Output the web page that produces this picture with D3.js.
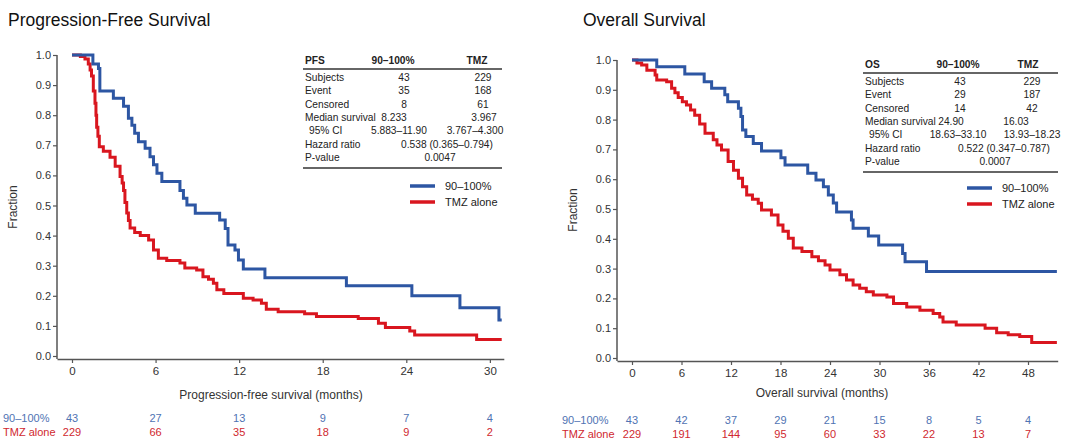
<!DOCTYPE html>
<html><head><meta charset="utf-8">
<script src="https://cdn.jsdelivr.net/npm/d3@7"></script>
<style>
body{margin:0;background:#fff;}
text{font-family:"Liberation Sans",Arial,sans-serif;}
</style></head>
<body><svg id="c" width="1080" height="446"></svg>
<script>
// ---------- data ----------
const pfsBlueT = [0,1.5,1.9,2.0,2.97,3.7,4.05,4.3,4.5,4.77,5.25,5.6,5.85,6.1,6.45,7.75,8.0,8.25,8.85,10.6,11.0,11.2,11.7,11.95,12.3,13.85,19.7,24.4,27.85,30.65,30.85];
const pfsBlueS = [1,0.97,0.955,0.88,0.856,0.83,0.79,0.767,0.74,0.712,0.69,0.662,0.635,0.607,0.58,0.55,0.524,0.502,0.474,0.452,0.424,0.369,0.352,0.319,0.289,0.26,0.233,0.20,0.16,0.12,0.12];
const pfsRedT = [0,0.6,0.93,1.17,1.3,1.4,1.53,1.65,1.72,1.77,1.86,1.96,2.25,2.73,3.1,3.45,3.6,3.7,3.8,3.93,4.05,4.17,4.5,4.9,5.5,5.85,6.2,6.8,7.75,8.1,8.95,9.4,9.8,10.15,10.4,10.9,12.3,13.0,13.6,13.95,14.8,16.7,17.55,20.55,22.0,22.5,24.25,24.6,29.05,30.85];
const pfsRedS = [1,0.995,0.987,0.97,0.95,0.93,0.88,0.84,0.80,0.76,0.73,0.695,0.68,0.66,0.63,0.596,0.575,0.55,0.51,0.475,0.45,0.425,0.41,0.40,0.385,0.352,0.325,0.317,0.309,0.292,0.286,0.263,0.255,0.242,0.22,0.208,0.192,0.186,0.175,0.155,0.147,0.14,0.131,0.125,0.109,0.095,0.083,0.07,0.055,0.055];

const osBlueT = [0,3.0,6.4,8.75,9.65,11.25,11.6,12.9,13.2,13.4,13.8,14.7,15.7,18.05,18.55,21.3,22.3,23.2,23.8,24.4,24.8,26.6,26.8,28.65,29.9,32.8,33.1,35.7,51.5];
const osBlueS = [1,0.977,0.953,0.927,0.905,0.883,0.86,0.838,0.81,0.765,0.743,0.72,0.695,0.672,0.648,0.62,0.597,0.575,0.547,0.52,0.49,0.463,0.435,0.409,0.379,0.351,0.323,0.29,0.29];
const osRedT = [0,0.6,1.17,1.8,2.8,3.0,4.2,4.8,5.2,5.6,6.1,6.6,7.1,7.6,8.2,8.85,9.85,10.3,10.85,11.65,12.3,12.9,13.4,13.9,14.6,15.3,15.7,16.9,17.7,18.3,18.95,19.55,20.6,21.8,22.6,23.4,24.0,25.2,26.0,26.8,27.6,28.4,29.25,30.9,31.7,33.3,34.9,36.5,37.3,37.7,39.3,42.8,44.2,45.6,47.0,48.45,51.5];
const osRedS = [1,0.99,0.983,0.966,0.95,0.933,0.927,0.905,0.89,0.874,0.86,0.849,0.832,0.815,0.785,0.754,0.732,0.715,0.698,0.659,0.63,0.603,0.575,0.547,0.533,0.519,0.497,0.48,0.446,0.425,0.402,0.369,0.357,0.34,0.326,0.312,0.295,0.279,0.262,0.245,0.234,0.222,0.211,0.205,0.183,0.171,0.16,0.149,0.138,0.121,0.111,0.1,0.085,0.078,0.072,0.052,0.052];

const yTicks = [0,0.1,0.2,0.3,0.4,0.5,0.6,0.7,0.8,0.9,1.0];
const pfsXTicks = [0,6,12,18,24,30];
const osXTicks = [0,6,12,18,24,30,36,42,48];
const pfsRiskBlue = [43,27,13,9,7,4];
const pfsRiskRed = [229,66,35,18,9,2];
const osRiskBlue = [43,42,37,29,21,15,8,5,4];
const osRiskRed = [229,191,144,95,60,33,22,13,7];
const seriesNames = ["90–100%","TMZ alone"];
const riskLabels = ["90–100%","TMZ alone"];

const pfsTableHead = ["PFS","90–100%","TMZ"];
const pfsTableRows = [["Subjects","43","229"],["Event","35","168"],["Censored","8","61"],["Median survival","8.233","3.967"],["95% CI","5.883–11.90","3.767–4.300"]];
const pfsTableSpan = [["Hazard ratio","0.538 (0.365–0.794)"],["P-value","0.0047"]];
const osTableHead = ["OS","90–100%","TMZ"];
const osTableRows = [["Subjects","43","229"],["Event","29","187"],["Censored","14","42"],["Median survival","24.90","16.03"],["95% CI","18.63–33.10","13.93–18.23"]];
const osTableSpan = [["Hazard ratio","0.522 (0.347–0.787)"],["P-value","0.0007"]];

// ---------- drawing ----------
const BLUE = "#2d56a3", RED = "#d9161f";
const RISKBLUE = "#4f73b3", RISKRED = "#d0282f";
const FS = 10.2;
const svg = d3.select("#c");

function panel(o){
  const g = svg.append("g");
  const x = d3.scaleLinear().domain(o.xDom).range(o.xRange);
  const y = d3.scaleLinear().domain([0,1]).range(o.yRange);

  g.append("text").attr("x",o.titleX).attr("y",26).attr("font-size",17.5).attr("fill","#111").text(o.title);

  const ya = g.append("g").attr("transform",`translate(${o.xRange[0]},0)`)
    .call(d3.axisLeft(y).tickValues(yTicks).tickFormat(d3.format(".1f")).tickSize(4).tickSizeOuter(0));
  ya.select(".domain").attr("stroke","#555").attr("stroke-width",1.5).attr("d",`M0,${o.yRange[0]+3}V${o.yRange[1]}`);
  ya.selectAll(".tick line").attr("stroke","#555").attr("stroke-width",1.2);
  ya.selectAll(".tick text").attr("font-size",11).attr("fill","#333").attr("x",-6)
    .style("font-family","Liberation Sans, Arial, sans-serif");

  const xa = g.append("g").attr("transform",`translate(0,${o.yRange[0]+3})`)
    .call(d3.axisBottom(x).tickValues(o.xTicks).tickFormat(d3.format("d")).tickSize(4).tickSizeOuter(0));
  xa.select(".domain").attr("stroke","#555").attr("stroke-width",1.5);
  xa.selectAll(".tick line").attr("stroke","#555").attr("stroke-width",1.2);
  xa.selectAll(".tick text").attr("font-size",11.5).attr("fill","#333").attr("y",8)
    .style("font-family","Liberation Sans, Arial, sans-serif");

  g.append("text").attr("transform",`translate(${o.fracX},${o.fracY}) rotate(-90)`)
    .attr("text-anchor","middle").attr("font-size",12).attr("fill","#333").text("Fraction");
  g.append("text").attr("x",o.xLabelX).attr("y",o.xLabelY).attr("text-anchor","middle")
    .attr("font-size",12).attr("fill","#333").text(o.xLabel);

  const line = d3.line().x(d=>x(d[0])).y(d=>y(d[1])).curve(d3.curveStepAfter);
  [[o.redT,o.redS,RED],[o.blueT,o.blueS,BLUE]].forEach(([t,s,c])=>{
    g.append("path").datum(t.map((v,i)=>[v,s[i]])).attr("d",line)
      .attr("fill","none").attr("stroke",c).attr("stroke-width",3).attr("stroke-linejoin","miter");
  });

  const tb = o.table;
  const hd = (xx,txt,anchor)=>g.append("text").attr("x",xx).attr("y",tb.y).attr("text-anchor",anchor)
    .attr("font-size",FS).attr("font-weight","bold").attr("fill","#222").text(txt);
  hd(tb.x,tb.head[0],"start"); hd(tb.hc1,tb.head[1],"middle"); hd(tb.hc2,tb.head[2],"middle");
  g.append("line").attr("x1",tb.x-2).attr("x2",tb.x2).attr("y1",tb.y+5).attr("y2",tb.y+5).attr("stroke","#666").attr("stroke-width",2);
  tb.rows.forEach((r,i)=>{
    const yy = tb.y+17+i*13.3;
    g.append("text").attr("x",tb.x+(i===4?4:0)).attr("y",yy).attr("font-size",FS).attr("fill","#222").text(r[0]);
    g.append("text").attr("x",tb.c1[i]).attr("y",yy).attr("text-anchor","middle").attr("font-size",FS).attr("fill","#222").text(r[1]);
    g.append("text").attr("x",tb.c2[i]).attr("y",yy).attr("text-anchor","middle").attr("font-size",FS).attr("fill","#222").text(r[2]);
  });
  tb.span.forEach((r,i)=>{
    const yy = tb.y+17+(i+5)*13.3;
    g.append("text").attr("x",tb.x).attr("y",yy).attr("font-size",FS).attr("fill","#222").text(r[0]);
    g.append("text").attr("x",tb.sc[i]).attr("y",yy).attr("text-anchor","middle").attr("font-size",FS).attr("fill","#222").text(r[1]);
  });
  g.append("line").attr("x1",tb.x-2).attr("x2",tb.x2).attr("y1",tb.y+104).attr("y2",tb.y+104).attr("stroke","#666").attr("stroke-width",2);

  [BLUE,RED].forEach((c,i)=>{
    const yy = o.legY + i*16;
    g.append("line").attr("x1",o.legX).attr("x2",o.legX+25).attr("y1",yy).attr("y2",yy).attr("stroke",c).attr("stroke-width",3.5);
    g.append("text").attr("x",o.legX+35).attr("y",yy+4).attr("font-size",11).attr("fill","#222").text(seriesNames[i]);
  });

  [[o.riskBlue,RISKBLUE],[o.riskRed,RISKRED]].forEach(([vals,c],i)=>{
    const yy = o.riskY + i*14;
    g.append("text").attr("x",o.riskLabX).attr("y",yy).attr("font-size",11).attr("fill",c).text(riskLabels[i]);
    g.selectAll(null).data(vals).enter().append("text")
      .attr("x",(d,j)=>x(o.xTicks[j])).attr("y",yy).attr("text-anchor","middle")
      .attr("font-size",11).attr("fill",c).text(d=>d);
  });
}

panel({
  title:"Progression-Free Survival", titleX:8,
  xDom:[-1.077,31], xRange:[57,503.8], yRange:[356,55], xTicks:pfsXTicks,
  fracX:17, fracY:207, xLabel:"Progression-free survival (months)", xLabelX:271, xLabelY:399,
  blueT:pfsBlueT, blueS:pfsBlueS, redT:pfsRedT, redS:pfsRedS,
  table:{x:305, x2:502, y:64, head:pfsTableHead, hc1:393, hc2:477, rows:pfsTableRows, span:pfsTableSpan,
         c1:[404,404,404,394,399], c2:[483,483,483,484,475], sc:[447,440]},
  legX:410, legY:186,
  riskBlue:pfsRiskBlue, riskRed:pfsRiskRed, riskY:422, riskLabX:3
});

panel({
  title:"Overall Survival", titleX:583,
  xDom:[-1.818,51.6], xRange:[617,1057.7], yRange:[358,60], xTicks:osXTicks,
  fracX:577, fracY:210, xLabel:"Overall survival (months)", xLabelX:822, xLabelY:397,
  blueT:osBlueT, blueS:osBlueS, redT:osRedT, redS:osRedS,
  table:{x:865, x2:1058, y:68, head:osTableHead, hc1:958, hc2:1028, rows:osTableRows, span:osTableSpan,
         c1:[960,960,960,951,958], c2:[1032,1032,1032,1016,1032], sc:[1004,995]},
  legX:967, legY:188,
  riskBlue:osRiskBlue, riskRed:osRiskRed, riskY:424, riskLabX:562
});
</script></body></html>
